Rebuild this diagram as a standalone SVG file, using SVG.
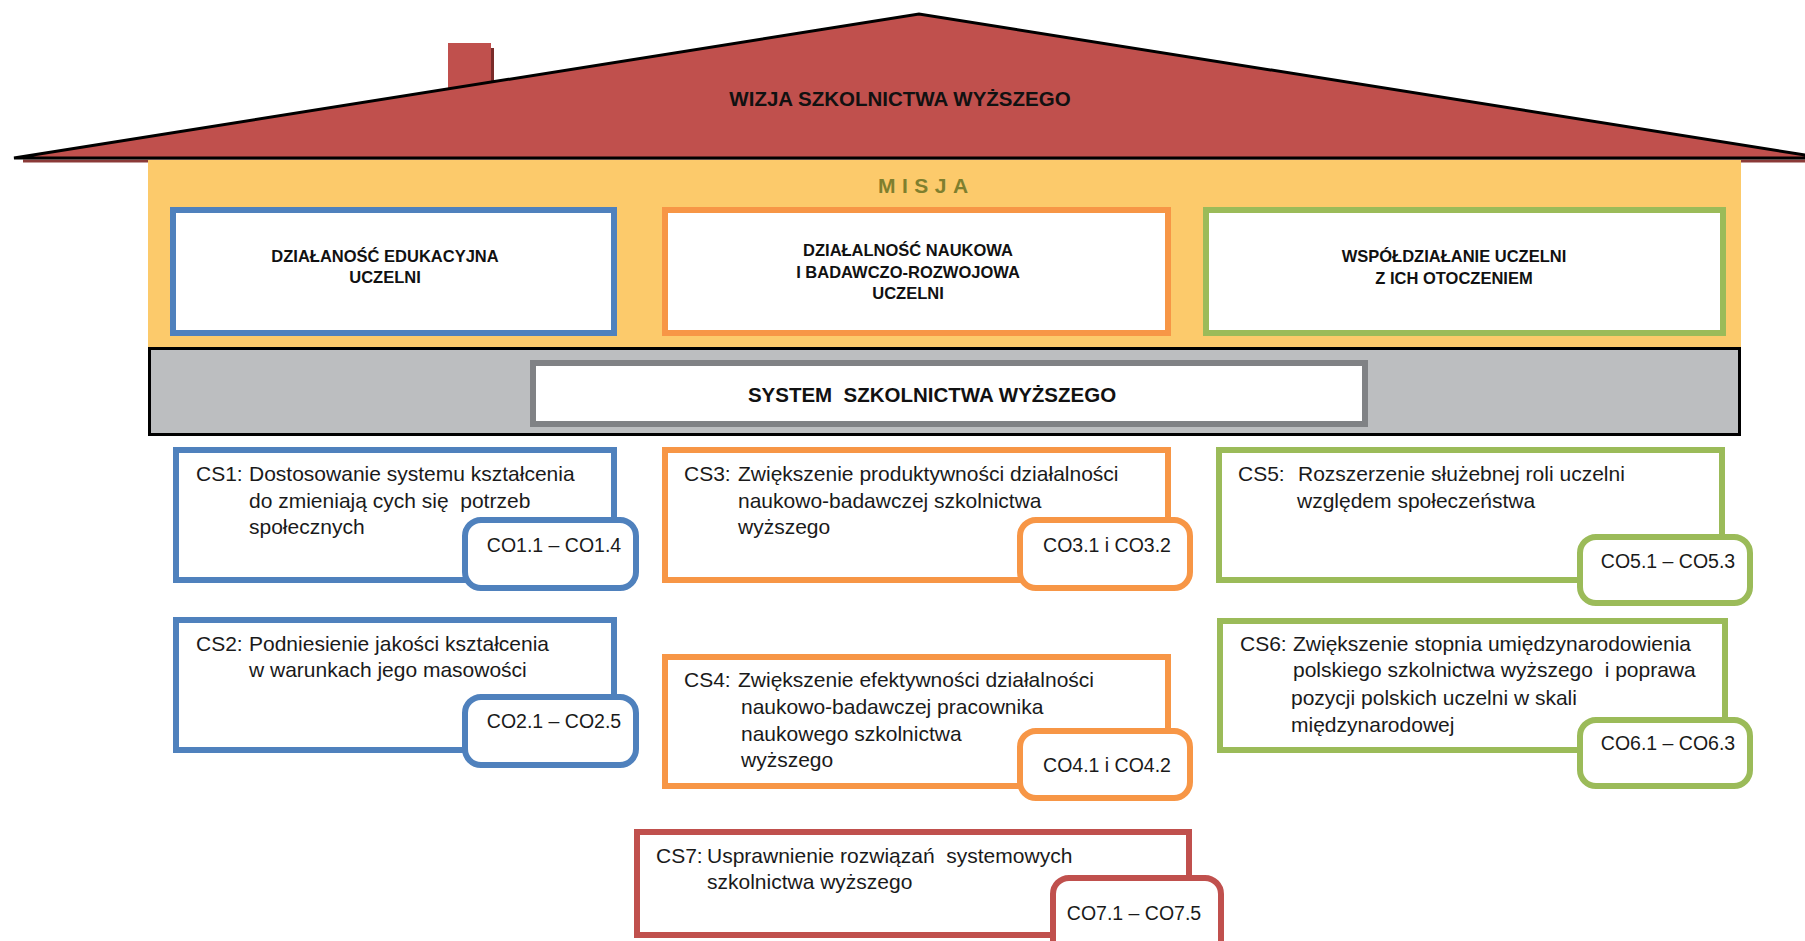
<svg xmlns="http://www.w3.org/2000/svg" width="1805" height="941" viewBox="0 0 1805 941">
<style>
.box{fill:#fff;stroke-width:6}
.badge{fill:#fff;stroke-width:6}
.blue{stroke:#4F81BD}
.orange{stroke:#F79646}
.green{stroke:#9BBB59}
.red{stroke:#C0504D}
.head{font-family:"Liberation Sans",Arial,sans-serif;font-weight:bold;font-size:16.5px;fill:#111;text-anchor:middle}
.big{font-family:"Liberation Sans",Arial,sans-serif;font-weight:bold;font-size:20.5px;fill:#111;text-anchor:middle}
.body{font-family:"Liberation Sans",Arial,sans-serif;font-size:21px;fill:#1a1a1a}
.co{font-family:"Liberation Sans",Arial,sans-serif;font-size:19.5px;fill:#1a1a1a;text-anchor:middle}
</style>
<rect width="1805" height="941" fill="#fff"/>
<g id="roof">
  <rect x="448" y="43" width="43" height="60" fill="#C0504D"/>
  <rect x="491" y="48" width="3" height="55" fill="#7A2B29"/>
  <rect x="23" y="159.5" width="1782" height="3" fill="#8B3A38"/>
  <polygon points="14,158 919,14 1824,158" fill="#C0504D" stroke="#000" stroke-width="3" stroke-linejoin="miter"/>
  <text class="big" x="900" y="106">WIZJA SZKOLNICTWA WYŻSZEGO</text>
</g>
<g id="misja">
  <rect x="148" y="160" width="1593" height="188" fill="#FCCA6B"/>
  <text x="878" y="193" font-family="Liberation Sans, Arial, sans-serif" font-weight="bold" font-size="21" letter-spacing="6.5" fill="#7F7F2E">MISJA</text>
</g>
<g id="system-band">
  <rect x="149.5" y="348.5" width="1590" height="86" fill="#BCBEC0" stroke="#000" stroke-width="3"/>
</g>
<g id="dzialalnosc-edukacyjna">
  <rect class="box blue" x="173" y="210" width="441" height="123"/>
  <text class="head" x="385" y="262">DZIAŁANOŚĆ EDUKACYJNA</text>
  <text class="head" x="385" y="283">UCZELNI</text>
</g>
<g id="dzialalnosc-naukowa">
  <rect class="box orange" x="665" y="210" width="503" height="123"/>
  <text class="head" x="908" y="256">DZIAŁALNOŚĆ NAUKOWA</text>
  <text class="head" x="908" y="278">I BADAWCZO-ROZWOJOWA</text>
  <text class="head" x="908" y="299">UCZELNI</text>
</g>
<g id="wspoldzialanie">
  <rect class="box green" x="1206" y="210" width="517" height="123"/>
  <text class="head" x="1454" y="262">WSPÓŁDZIAŁANIE UCZELNI</text>
  <text class="head" x="1454" y="284">Z ICH OTOCZENIEM</text>
</g>
<g id="system">
  <rect x="533" y="363" width="832" height="61" fill="#fff" stroke="#808285" stroke-width="6"/>
  <text class="big" x="932" y="402" xml:space="preserve">SYSTEM  SZKOLNICTWA WYŻSZEGO</text>
</g>
<g id="cs1">
  <rect class="box blue" x="176" y="450" width="438" height="130"/>
  <text class="body" x="196" y="481">CS1:</text>
  <text class="body" x="249" y="481">Dostosowanie systemu kształcenia</text>
  <text class="body" x="249" y="508" xml:space="preserve">do zmieniają cych się  potrzeb</text>
  <text class="body" x="249" y="534">społecznych</text>
  <rect class="badge blue" x="465" y="520" width="171" height="68" rx="16"/>
  <text class="co" x="554" y="552">CO1.1 – CO1.4</text>
</g>
<g id="cs2">
  <rect class="box blue" x="176" y="620" width="438" height="130"/>
  <text class="body" x="196" y="651">CS2:</text>
  <text class="body" x="249" y="651">Podniesienie jakości kształcenia</text>
  <text class="body" x="249" y="677">w warunkach jego masowości</text>
  <rect class="badge blue" x="465" y="697" width="171" height="68" rx="16"/>
  <text class="co" x="554" y="728">CO2.1 – CO2.5</text>
</g>
<g id="cs3">
  <rect class="box orange" x="665" y="450" width="503" height="130"/>
  <text class="body" x="684" y="481">CS3:</text>
  <text class="body" x="738" y="481">Zwiększenie produktywności działalności</text>
  <text class="body" x="738" y="508">naukowo-badawczej szkolnictwa</text>
  <text class="body" x="738" y="534">wyższego</text>
  <rect class="badge orange" x="1020" y="520" width="170" height="68" rx="16"/>
  <text class="co" x="1107" y="552">CO3.1 i CO3.2</text>
</g>
<g id="cs4">
  <rect class="box orange" x="665" y="657" width="503" height="129"/>
  <text class="body" x="684" y="687">CS4:</text>
  <text class="body" x="738" y="687">Zwiększenie efektywności działalności</text>
  <text class="body" x="741" y="714">naukowo-badawczej pracownika</text>
  <text class="body" x="741" y="741">naukowego szkolnictwa</text>
  <text class="body" x="741" y="767">wyższego</text>
  <rect class="badge orange" x="1020" y="731" width="170" height="67" rx="16"/>
  <text class="co" x="1107" y="772">CO4.1 i CO4.2</text>
</g>
<g id="cs5">
  <rect class="box green" x="1219" y="450" width="503" height="130"/>
  <text class="body" x="1238" y="481">CS5:</text>
  <text class="body" x="1298" y="481">Rozszerzenie służebnej roli uczelni</text>
  <text class="body" x="1297" y="508">względem społeczeństwa</text>
  <rect class="badge green" x="1580" y="537" width="170" height="66" rx="16"/>
  <text class="co" x="1668" y="568">CO5.1 – CO5.3</text>
</g>
<g id="cs6">
  <rect class="box green" x="1220" y="621" width="505" height="129"/>
  <text class="body" x="1240" y="651">CS6:</text>
  <text class="body" x="1293" y="651">Zwiększenie stopnia umiędzynarodowienia</text>
  <text class="body" x="1293" y="677" xml:space="preserve">polskiego szkolnictwa wyższego  i poprawa</text>
  <text class="body" x="1291" y="705">pozycji polskich uczelni w skali</text>
  <text class="body" x="1291" y="732">międzynarodowej</text>
  <rect class="badge green" x="1580" y="720" width="170" height="66" rx="16"/>
  <text class="co" x="1668" y="750">CO6.1 – CO6.3</text>
</g>
<g id="cs7">
  <rect class="box red" x="637" y="832" width="552" height="103"/>
  <text class="body" x="656" y="863">CS7:</text>
  <text class="body" x="707" y="863" xml:space="preserve">Usprawnienie rozwiązań  systemowych</text>
  <text class="body" x="707" y="889">szkolnictwa wyższego</text>
  <rect class="badge red" x="1053" y="878" width="168" height="80" rx="16"/>
  <text class="co" x="1134" y="920">CO7.1 – CO7.5</text>
</g>
</svg>
